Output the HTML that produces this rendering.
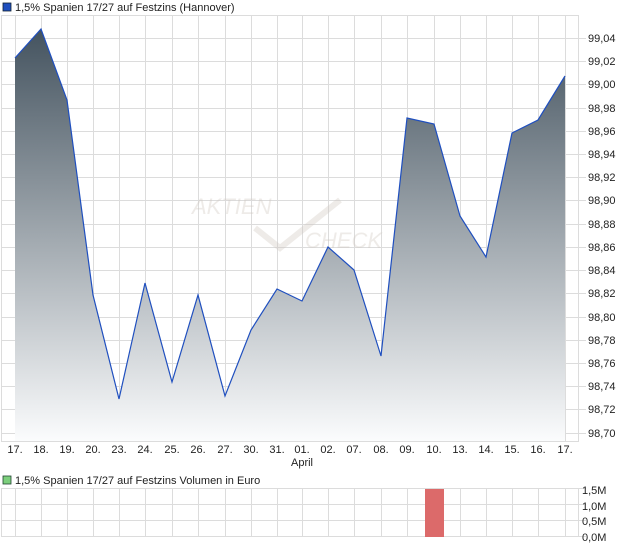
<!DOCTYPE html><html><head><style>body{margin:0;background:#fff;font-family:"Liberation Sans",sans-serif;}svg text{font-family:"Liberation Sans",sans-serif;font-size:11px;fill:#222}</style></head><body>
<svg width="620" height="546" xmlns="http://www.w3.org/2000/svg">
<defs><linearGradient id="g" x1="0" y1="0" x2="0" y2="1" gradientUnits="userSpaceOnUse" x2b="0"><stop offset="0" stop-color="#44535f"/><stop offset="1" stop-color="#ffffff"/></linearGradient>
<linearGradient id="g2" gradientUnits="userSpaceOnUse" x1="0" y1="29" x2="0" y2="441"><stop offset="0" stop-color="#44535f"/><stop offset="1" stop-color="#fbfcfd"/></linearGradient></defs>
<rect x="3" y="3" width="8" height="8" fill="#1f4fbf" stroke="#123" stroke-width="0.8"/>
<text x="15" y="11">1,5% Spanien 17/27 auf Festzins (Hannover)</text>
<g stroke="#dcdcdc" stroke-width="1">
<rect x="1.5" y="15.5" width="577" height="426" fill="none"/>
<path d="M15.5 15V441M41.5 15V441M67.5 15V441M93.5 15V441M119.5 15V441M145.5 15V441M172.5 15V441M198.5 15V441M225.5 15V441M251.5 15V441M277.5 15V441M302.5 15V441M328.5 15V441M354.5 15V441M381.5 15V441M407.5 15V441M434.5 15V441M460.5 15V441M486.5 15V441M512.5 15V441M538.5 15V441M565.5 15V441"/>
<path d="M1 38.5H586M1 61.5H586M1 84.5H586M1 108.5H586M1 131.5H586M1 154.5H586M1 177.5H586M1 200.5H586M1 224.5H586M1 247.5H586M1 270.5H586M1 293.5H586M1 317.5H586M1 340.5H586M1 363.5H586M1 386.5H586M1 409.5H586M1 433.5H586"/>
</g>
<path d="M15 58L41 29L67 100L93 295L119 399L145 283L172 382L198 295L225 396L251 330L277 289L302 301L328 247L354 270L381 356L407 118L434 124L460 216L486 257L512 133L538 120L565 76V441H15Z" fill="url(#g2)"/>
<path d="M15 58L41 29L67 100L93 295L119 399L145 283L172 382L198 295L225 396L251 330L277 289L302 301L328 247L354 270L381 356L407 118L434 124L460 216L486 257L512 133L538 120L565 76" fill="none" stroke="#1f4fbf" stroke-width="1.2"/>
<g opacity="0.35"><text x="192" y="214" style="font-size:22px;font-style:italic;fill:#cfc8c0">AKTIEN</text><text x="305" y="248" style="font-size:22px;font-style:italic;fill:#cfc8c0">CHECK</text><path d="M255 228L280 248L340 200" stroke="#cfc8c0" stroke-width="6" fill="none"/></g>
<g text-anchor="start"><text x="588" y="42">99,04</text><text x="588" y="65">99,02</text><text x="588" y="88">99,00</text><text x="588" y="112">98,98</text><text x="588" y="135">98,96</text><text x="588" y="158">98,94</text><text x="588" y="181">98,92</text><text x="588" y="204">98,90</text><text x="588" y="228">98,88</text><text x="588" y="251">98,86</text><text x="588" y="274">98,84</text><text x="588" y="297">98,82</text><text x="588" y="321">98,80</text><text x="588" y="344">98,78</text><text x="588" y="367">98,76</text><text x="588" y="390">98,74</text><text x="588" y="413">98,72</text><text x="588" y="437">98,70</text></g>
<g text-anchor="middle"><text x="15" y="453">17.</text><text x="41" y="453">18.</text><text x="67" y="453">19.</text><text x="93" y="453">20.</text><text x="119" y="453">23.</text><text x="145" y="453">24.</text><text x="172" y="453">25.</text><text x="198" y="453">26.</text><text x="225" y="453">27.</text><text x="251" y="453">30.</text><text x="277" y="453">31.</text><text x="302" y="453">01.</text><text x="328" y="453">02.</text><text x="354" y="453">07.</text><text x="381" y="453">08.</text><text x="407" y="453">09.</text><text x="434" y="453">10.</text><text x="460" y="453">13.</text><text x="486" y="453">14.</text><text x="512" y="453">15.</text><text x="538" y="453">16.</text><text x="565" y="453">17.</text><text x="302" y="466">April</text></g>
<rect x="3" y="476" width="8" height="8" fill="#7ccf7c" stroke="#243" stroke-width="0.8"/>
<text x="15" y="484">1,5% Spanien 17/27 auf Festzins Volumen in Euro</text>
<g stroke="#dcdcdc" stroke-width="1">
<rect x="1.5" y="488.5" width="577" height="48" fill="none"/>
<path d="M1 504.5H586M1 520.5H586M1 536.5H586M586 488.5H578"/>
<path d="M15.5 488V537M41.5 488V537M67.5 488V537M93.5 488V537M119.5 488V537M145.5 488V537M172.5 488V537M198.5 488V537M225.5 488V537M251.5 488V537M277.5 488V537M302.5 488V537M328.5 488V537M354.5 488V537M381.5 488V537M407.5 488V537M434.5 488V537M460.5 488V537M486.5 488V537M512.5 488V537M538.5 488V537M565.5 488V537"/>
</g>
<rect x="425" y="489" width="19" height="48" fill="#dc6a6a"/>
<text x="582" y="494">1,5M</text><text x="582" y="510">1,0M</text><text x="582" y="525">0,5M</text><text x="582" y="541">0,0M</text>
</svg></body></html>
